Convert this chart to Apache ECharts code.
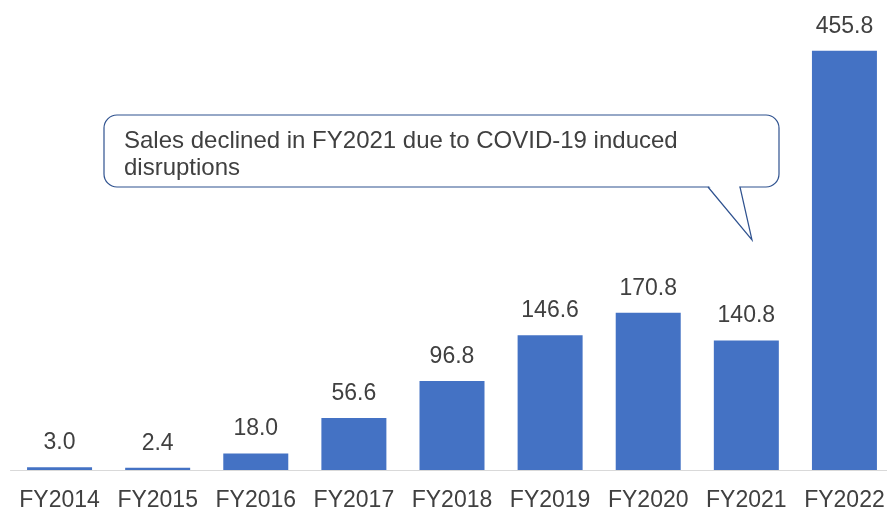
<!DOCTYPE html>
<html><head><meta charset="utf-8">
<script src="https://cdn.jsdelivr.net/npm/echarts@6/dist/echarts.min.js"></script>
<style>html,body{margin:0;padding:0;background:#fff}#c{width:887px;height:512px}</style>
</head><body><div id="c"></div>
<script>
const categories = ['FY2014','FY2015','FY2016','FY2017','FY2018','FY2019','FY2020','FY2021','FY2022'];
const sales = [3.0, 2.4, 18.0, 56.6, 96.8, 146.6, 170.8, 140.8, 455.8];
const calloutLines = ['Sales declined in FY2021 due to COVID-19 induced', 'disruptions'];

const chart = echarts.init(document.getElementById('c'));
const font = 'Liberation Sans, Arial, sans-serif';
chart.setOption({
  animation: false,
  grid: {left: 10.5, right: -6.5, top: 10, bottom: 42, outerBoundsMode: 'none', containLabel: false},
  xAxis: {
    type: 'category', data: categories,
    axisLine: {lineStyle: {color: '#d9d9d9', width: 1}},
    axisTick: {show: false},
    axisLabel: {color: '#404040', fontSize: 23, fontFamily: font, margin: 19, interval: 0}
  },
  yAxis: {type: 'value', min: 0, max: 500, show: false, splitLine: {show: false}},
  series: [{
    type: 'bar', data: sales, barWidth: 65,
    itemStyle: {color: '#4472C4'},
    label: {show: true, position: 'top', distance: 13, color: '#404040', fontSize: 23, fontFamily: font,
      formatter: p => p.value.toFixed(1)}
  }],
  graphic: [
    {type: 'rect', z: 10, shape: {x: 104, y: 115, width: 675, height: 72, r: 13},
     style: {fill: '#fff', stroke: '#2F528F', lineWidth: 1.2}},
    {type: 'polygon', z: 11, shape: {points: [[709, 186], [752, 240], [739, 186]]},
     style: {fill: '#fff', stroke: null}},
    {type: 'polyline', z: 12, shape: {points: [[708, 187], [752, 240], [740, 187]]},
     style: {fill: null, stroke: '#2F528F', lineWidth: 1.2}},
    {type: 'text', z: 13, left: 124, top: 128,
     style: {text: calloutLines.join('\n'), font: '24px ' + font, fill: '#404040', lineHeight: 27}}
  ]
});
</script></body></html>
